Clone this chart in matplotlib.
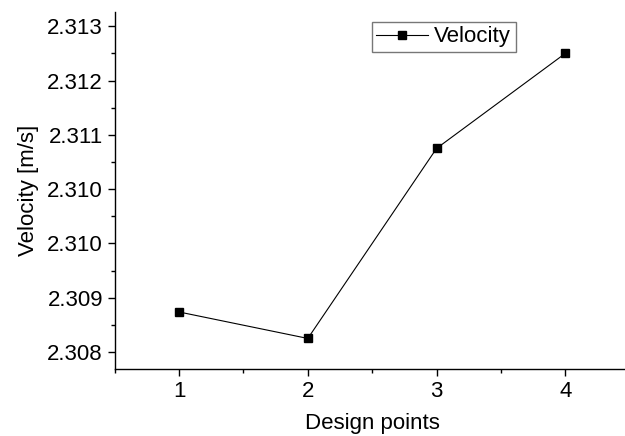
import numpy as np
import matplotlib
matplotlib.use("Agg")
import matplotlib.pyplot as plt
from matplotlib.ticker import MultipleLocator, FormatStrFormatter

design_points = [1, 2, 3, 4]
velocity = [2.30859, 2.30820, 2.31100, 2.31240]

plt.rcParams["font.family"] = ["Liberation Sans", "DejaVu Sans"]

fig = plt.figure(figsize=(6.25, 4.36), dpi=100)
ax = fig.add_axes([0.1835, 0.1537, 0.824, 0.8188])

ax.plot(design_points, velocity, color="black", linewidth=0.8,
        marker="s", markersize=6, label="Velocity")

ax.set_xlim(0.5, 4.5)
ax.set_ylim(2.30775, 2.31301)

ax.xaxis.set_major_locator(MultipleLocator(1))
ax.xaxis.set_minor_locator(MultipleLocator(0.5))
ax.yaxis.set_major_locator(MultipleLocator(0.0008))
ax.yaxis.set_minor_locator(MultipleLocator(0.0004))
ax.yaxis.set_major_formatter(FormatStrFormatter("%.3f"))

ax.spines["top"].set_visible(False)
ax.spines["right"].set_visible(False)
ax.spines["left"].set_linewidth(1.0)
ax.spines["bottom"].set_linewidth(1.0)

ax.tick_params(which="major", direction="out", length=5, width=1, labelsize=16)
ax.tick_params(which="minor", direction="out", length=3, width=1)

ax.set_xlabel("Design points", fontsize=16, labelpad=8)
ax.set_ylabel("Velocity [m/s]", fontsize=16, labelpad=6)

leg = ax.legend(loc="upper left", bbox_to_anchor=(372 / 625, 1 - 22 / 436),
                bbox_transform=fig.transFigure, fontsize=16, frameon=True,
                fancybox=False, handlelength=2.3, borderpad=0.2,
                handletextpad=0.3, borderaxespad=0)
leg.get_frame().set_edgecolor("#555555")
leg.get_frame().set_linewidth(1.0)

fig.savefig("out.png", dpi=100)
